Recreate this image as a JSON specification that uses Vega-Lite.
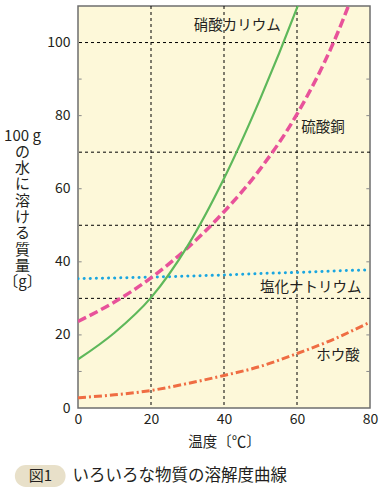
{
  "$schema": "https://vega.github.io/schema/vega-lite/v6.json",
  "autosize": {"type": "none"},
  "width": 292,
  "height": 402,
  "padding": {"left": 78, "top": 6, "right": 16, "bottom": 92},
  "background": "white",
  "config": {
    "font": "Noto Sans CJK JP",
    "view": {"fill": "#fdf8d9", "stroke": "#6e6e6e", "strokeWidth": 1.5},
    "text": {"font": "Noto Sans CJK JP", "color": "#231f20"}
  },
  "datasets": {
    "sol": [
      {"sub": "硝酸カリウム", "t": 0, "s": 13.3},
      {"sub": "硝酸カリウム", "t": 10, "s": 20.6},
      {"sub": "硝酸カリウム", "t": 20, "s": 30.2},
      {"sub": "硝酸カリウム", "t": 30, "s": 44.3},
      {"sub": "硝酸カリウム", "t": 40, "s": 62.8},
      {"sub": "硝酸カリウム", "t": 50, "s": 84.8},
      {"sub": "硝酸カリウム", "t": 60, "s": 109.5},
      {"sub": "硝酸カリウム", "t": 70, "s": 137},
      {"sub": "硝酸カリウム", "t": 80, "s": 167},
      {"sub": "硫酸銅", "t": 0, "s": 23.7},
      {"sub": "硫酸銅", "t": 10, "s": 29.0},
      {"sub": "硫酸銅", "t": 20, "s": 35.6},
      {"sub": "硫酸銅", "t": 30, "s": 43.8},
      {"sub": "硫酸銅", "t": 40, "s": 53.7},
      {"sub": "硫酸銅", "t": 50, "s": 65.5},
      {"sub": "硫酸銅", "t": 60, "s": 80.4},
      {"sub": "硫酸銅", "t": 70, "s": 100},
      {"sub": "硫酸銅", "t": 80, "s": 126},
      {"sub": "塩化ナトリウム", "t": 0, "s": 35.4},
      {"sub": "塩化ナトリウム", "t": 10, "s": 35.6},
      {"sub": "塩化ナトリウム", "t": 20, "s": 35.8},
      {"sub": "塩化ナトリウム", "t": 30, "s": 36.1},
      {"sub": "塩化ナトリウム", "t": 40, "s": 36.4},
      {"sub": "塩化ナトリウム", "t": 50, "s": 36.8},
      {"sub": "塩化ナトリウム", "t": 60, "s": 37.1},
      {"sub": "塩化ナトリウム", "t": 70, "s": 37.5},
      {"sub": "塩化ナトリウム", "t": 80, "s": 37.8},
      {"sub": "ホウ酸", "t": 0, "s": 2.8},
      {"sub": "ホウ酸", "t": 10, "s": 3.6},
      {"sub": "ホウ酸", "t": 20, "s": 4.8},
      {"sub": "ホウ酸", "t": 30, "s": 6.7},
      {"sub": "ホウ酸", "t": 40, "s": 8.9},
      {"sub": "ホウ酸", "t": 50, "s": 11.4},
      {"sub": "ホウ酸", "t": 60, "s": 14.9},
      {"sub": "ホウ酸", "t": 70, "s": 18.8},
      {"sub": "ホウ酸", "t": 80, "s": 23.5}
    ],
    "vgrid": [{"v": 20}, {"v": 40}, {"v": 60}],
    "hgrid": [{"v": 30}, {"v": 50}, {"v": 70}, {"v": 100}],
    "ticks": [{"v": 10}, {"v": 20}, {"v": 40}, {"v": 60}, {"v": 80}, {"v": 90}],
    "labels": [
      {"name": "硝酸カリウム", "lt": 43.6, "ls": 104.4},
      {"name": "硫酸銅", "lt": 67.1, "ls": 76.7},
      {"name": "塩化ナトリウム", "lt": 63.8, "ls": 32.9},
      {"name": "ホウ酸", "lt": 71.2, "ls": 14.2}
    ],
    "caption": [{"fig": "図1", "text": "いろいろな物質の溶解度曲線"}]
  },
  "layer": [
    {
      "data": {"name": "vgrid"},
      "mark": {"type": "rule", "color": "#000000", "strokeWidth": 1, "strokeDash": [3, 3]},
      "encoding": {
        "x": {
          "field": "v", "type": "quantitative",
          "scale": {"domain": [0, 80], "nice": false, "zero": false},
          "axis": {
            "values": [0, 20, 40, 60, 80], "ticks": false, "domain": false, "grid": false,
            "labelFontSize": 14, "labelColor": "#231f20", "labelPadding": 4, "labelFlush": false,
            "title": "温度〔℃〕", "titleFontSize": 14.5, "titleFontWeight": "normal",
            "titleColor": "#231f20", "titleY": 34, "titleBaseline": "middle"
          }
        }
      }
    },
    {
      "data": {"name": "hgrid"},
      "mark": {"type": "rule", "color": "#000000", "strokeWidth": 1, "strokeDash": [3, 3]},
      "encoding": {
        "y": {
          "field": "v", "type": "quantitative",
          "scale": {"domain": [0, 110], "nice": false, "zero": false},
          "axis": {
            "values": [0, 20, 40, 60, 80, 100], "ticks": false, "domain": false, "grid": false,
            "labelFontSize": 14, "labelColor": "#231f20", "labelPadding": 8,
            "title": ["100 g", "の", "水", "に", "溶", "け", "る", "質", "量", "〔g〕"],
            "titleAngle": 0, "titleAlign": "center", "titleBaseline": "top",
            "titleX": -56, "titleY": 122, "titleLineHeight": 16.3,
            "titleFontSize": 15, "titleFontWeight": "normal", "titleColor": "#231f20"
          }
        }
      }
    },
    {
      "data": {"name": "ticks"},
      "mark": {"type": "rule", "color": "#8a8a8a", "strokeWidth": 1},
      "encoding": {
        "y": {"field": "v", "type": "quantitative"},
        "x": {"datum": 79},
        "x2": {"datum": 80}
      }
    },
    {
      "data": {"name": "ticks"},
      "mark": {"type": "rule", "color": "#8a8a8a", "strokeWidth": 1},
      "encoding": {
        "y": {"field": "v", "type": "quantitative"},
        "x": {"datum": 0},
        "x2": {"datum": 1}
      }
    },
    {
      "data": {"name": "sol"},
      "transform": [{"filter": "datum.sub === 'ホウ酸'"}],
      "mark": {"type": "line", "interpolate": "monotone", "clip": true, "color": "#ef6d43", "strokeWidth": 3, "strokeDash": [8, 3, 2, 3]},
      "encoding": {
        "x": {"field": "t", "type": "quantitative"},
        "y": {"field": "s", "type": "quantitative"}
      }
    },
    {
      "data": {"name": "sol"},
      "transform": [{"filter": "datum.sub === '塩化ナトリウム'"}],
      "mark": {"type": "line", "interpolate": "monotone", "clip": true, "color": "#1aa6e0", "strokeWidth": 3, "strokeCap": "round", "strokeDash": [0.1, 6]},
      "encoding": {
        "x": {"field": "t", "type": "quantitative"},
        "y": {"field": "s", "type": "quantitative"}
      }
    },
    {
      "data": {"name": "sol"},
      "transform": [{"filter": "datum.sub === '硫酸銅'"}],
      "mark": {"type": "line", "interpolate": "monotone", "clip": true, "color": "#e8529a", "strokeWidth": 3.5, "strokeDash": [9, 4]},
      "encoding": {
        "x": {"field": "t", "type": "quantitative"},
        "y": {"field": "s", "type": "quantitative"}
      }
    },
    {
      "data": {"name": "sol"},
      "transform": [{"filter": "datum.sub === '硝酸カリウム'"}],
      "mark": {"type": "line", "interpolate": "monotone", "clip": true, "color": "#5eb85a", "strokeWidth": 2.2},
      "encoding": {
        "x": {"field": "t", "type": "quantitative"},
        "y": {"field": "s", "type": "quantitative"}
      }
    },
    {
      "data": {"name": "labels"},
      "mark": {"type": "text", "fontSize": 14.5, "align": "center", "baseline": "middle", "color": "#231f20"},
      "encoding": {
        "x": {"field": "lt", "type": "quantitative"},
        "y": {"field": "ls", "type": "quantitative"},
        "text": {"field": "name"}
      }
    },
    {
      "data": {"name": "caption"},
      "mark": {"type": "rect", "fill": "#e8e0c9", "cornerRadius": 11},
      "encoding": {
        "x": {"datum": -17.3},
        "x2": {"datum": -3.4},
        "y": {"datum": -15.6},
        "y2": {"datum": -21.6}
      }
    },
    {
      "data": {"name": "caption"},
      "mark": {"type": "text", "fontSize": 15, "align": "center", "baseline": "middle", "color": "#231f20"},
      "encoding": {
        "x": {"datum": -10.3},
        "y": {"datum": -18.6},
        "text": {"field": "fig"}
      }
    },
    {
      "data": {"name": "caption"},
      "mark": {"type": "text", "fontSize": 16.5, "align": "left", "baseline": "middle", "color": "#231f20"},
      "encoding": {
        "x": {"datum": -1.5},
        "y": {"datum": -18.6},
        "text": {"field": "text"}
      }
    }
  ]
}
